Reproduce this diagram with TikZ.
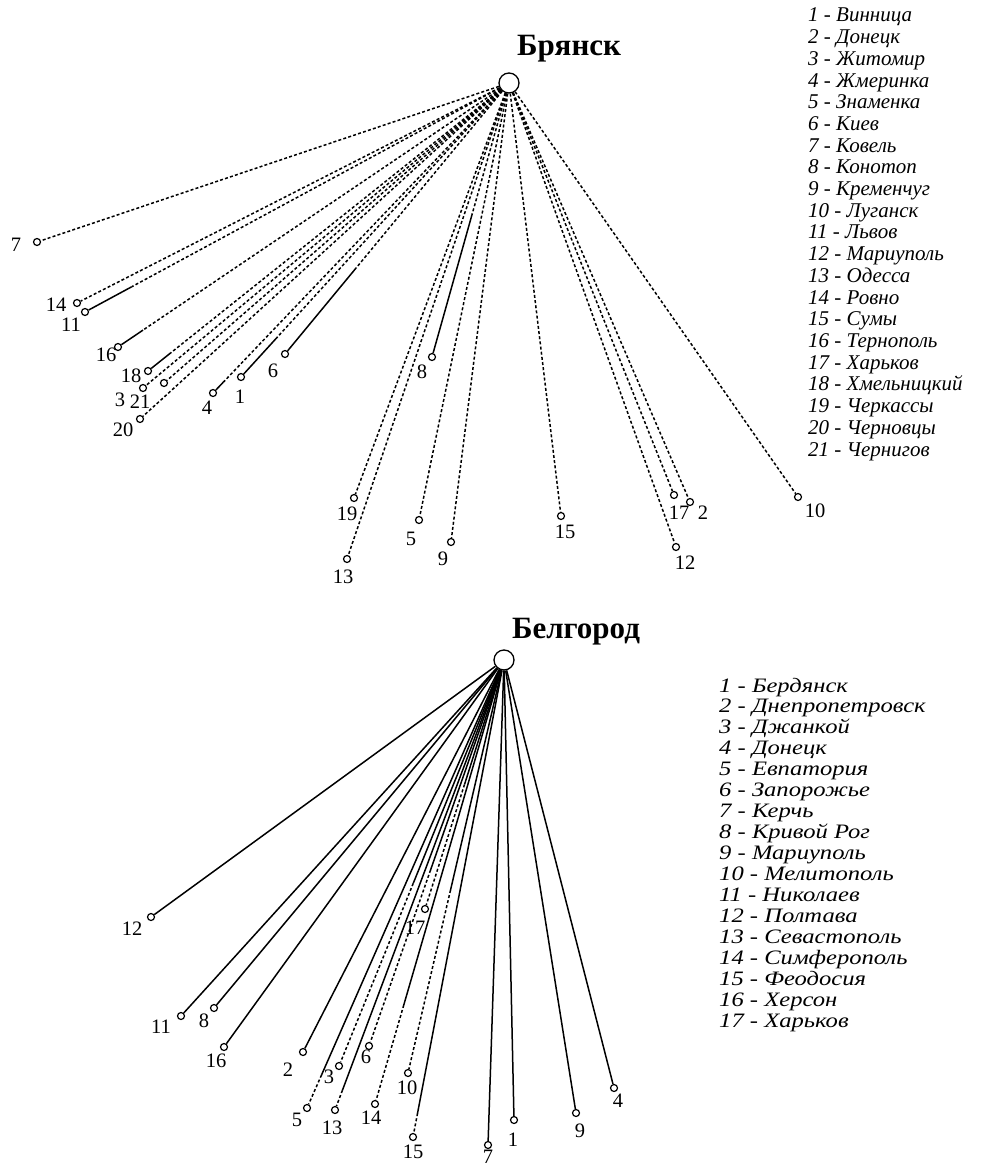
\documentclass[tikz,border=0pt]{standalone}
\usepackage{fontspec}
\setmainfont{Liberation Serif}
\usetikzlibrary{calc}
\begin{document}
\begin{tikzpicture}[x=1pt,y=-1pt,
  hub/.style={circle, draw, fill=white, minimum size=20pt, inner sep=0pt, line width=1.3pt},
  stn/.style={circle, draw, fill=white, minimum size=7pt, inner sep=0pt, line width=1.2pt},
  num/.style={font=\fontsize{20.5}{20.5}\selectfont, inner sep=0pt},
  link/.style={line width=1.5pt},
  dlink/.style={line width=1.5pt, dash pattern=on 3pt off 2.2pt},
  legA/.style={font=\fontsize{21}{21}\selectfont\itshape, anchor=base west, inner sep=0pt},
  legB/.style={font=\fontsize{20.5}{20.5}\selectfont\itshape, anchor=base west, inner sep=0pt},
  ttl/.style={font=\fontsize{31}{31}\selectfont\bfseries, anchor=base, inner sep=0pt}]
\useasboundingbox (0,0) rectangle (993,1166);

% ---------- top: Bryansk ----------
\node[ttl] (titleA) at (569,56) {Брянск};
\node[hub] (B) at (509,83) {};
\foreach \n/\x/\y in {1/241/377, 2/690/502, 3/143/388, 4/213/393, 5/419/520, 6/285/354,
  7/37/242, 8/432/357, 9/451/542, 10/798/497, 11/85/312, 12/676/547, 13/347/559,
  14/77/303, 15/561/516, 16/118/347, 17/674/495, 18/148/371, 19/354/498, 20/140/419, 21/164/383}
  \node[stn] (t\n) at (\x,\y) {};
\foreach \n/\x/\y in {1/240/397, 2/703/513, 3/120/400, 4/207/408, 5/411/539, 6/273/371,
  7/16/245, 8/422/372, 9/443/559, 10/815/511, 11/71/325, 12/685/563, 13/343/577,
  14/56/305, 15/565/532, 16/106/355, 17/679/513, 18/131/376, 19/347/514, 20/123/430, 21/140/402}
  \node[num] (tl\n) at (\x,\y) {\n};
% fully dashed links
\foreach \n in {2,3,5,7,9,10,12,13,14,15,17,19,20,21}
  \draw[dlink] (B) -- (t\n);
% dashed then solid near the end
\foreach \n/\t in {11/0.89, 16/0.936, 18/0.9375, 1/0.867, 4/0.965, 6/0.683, 8/0.478}{
  \coordinate (tp\n) at ($(B.center)!\t!(t\n.center)$);
  \draw[dlink] (B) -- (tp\n);
  \draw[link] (tp\n) -- (t\n);
}
\foreach \i/\nm in {1/Винница, 2/Донецк, 3/Житомир, 4/Жмеринка, 5/Знаменка, 6/Киев,
  7/Ковель, 8/Конотоп, 9/Кременчуг, 10/Луганск, 11/Львов, 12/Мариуполь, 13/Одесса,
  14/Ровно, 15/Сумы, 16/Тернополь, 17/Харьков, 18/Хмельницкий, 19/Черкассы,
  20/Черновцы, 21/Чернигов}
  \node[legA] (la\i) at (808,{22+(\i-1)*21.7}) {\i\ - \nm};

% ---------- bottom: Belgorod ----------
\node[ttl] (titleB) at (576,638) {Белгород};
\node[hub] (G) at (504,660) {};
\foreach \n/\x/\y in {1/514/1120, 2/303/1052, 3/339/1066, 4/614/1088, 5/307/1108,
  6/369/1046, 7/488/1145, 8/214/1008, 9/576/1113, 10/408/1073, 11/181/1016,
  12/151/917, 13/335/1110, 14/375/1104, 15/413/1137, 16/224/1047, 17/425/909}
  \node[stn] (b\n) at (\x,\y) {};
\foreach \n/\x/\y in {1/513/1140, 2/288/1070, 3/329/1077, 4/618/1101, 5/297/1120,
  6/366/1057, 7/488/1157, 8/204/1021, 9/580/1131, 10/407/1088, 11/161/1027,
  12/132/929, 13/332/1128, 14/371/1118, 15/413/1152, 16/216/1061, 17/415/928}
  \node[num] (bl\n) at (\x,\y) {\n};
% fully solid links
\foreach \n in {1,2,4,7,8,9,11,12,16}
  \draw[link] (G) -- (b\n);
% solid then dashed near the end
\foreach \n/\t in {5/0.926, 13/0.956, 3/0.55, 6/0.544, 14/0.777, 17/0.50, 10/0.557, 15/0.95}{
  \coordinate (bp\n) at ($(G.center)!\t!(b\n.center)$);
  \draw[link] (G) -- (bp\n);
  \draw[dlink] (bp\n) -- (b\n);
}
\foreach \i/\nm in {1/Бердянск, 2/Днепропетровск, 3/Джанкой, 4/Донецк, 5/Евпатория,
  6/Запорожье, 7/Керчь, 8/Кривой Рог, 9/Мариуполь, 10/Мелитополь, 11/Николаев,
  12/Полтава, 13/Севастополь, 14/Симферополь, 15/Феодосия, 16/Херсон, 17/Харьков}
  \node[legB] (lb\i) at (719,{692+(\i-1)*20.94}) {\scalebox{1.2}[1]{\i\ - \nm}};
\end{tikzpicture}
\end{document}
